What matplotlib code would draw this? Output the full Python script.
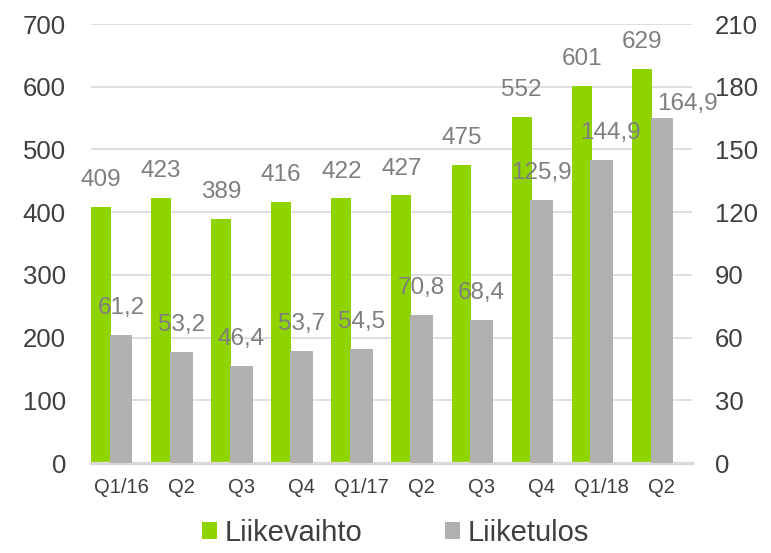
import numpy as np
import matplotlib.pyplot as plt

quarters = ['Q1/16', 'Q2', 'Q3', 'Q4', 'Q1/17', 'Q2', 'Q3', 'Q4', 'Q1/18', 'Q2']
liikevaihto = [409, 423, 389, 416, 422, 427, 475, 552, 601, 629]
liiketulos = [61.2, 53.2, 46.4, 53.7, 54.5, 70.8, 68.4, 125.9, 144.9, 164.9]

green = '#8FD400'
grey = '#B2B1AF'
label_col = '#7F7F7F'
tick_col = '#3F3F3F'

plt.rcParams['font.family'] = ['Liberation Sans', 'DejaVu Sans']

fig = plt.figure(figsize=(7.71, 5.53), dpi=100)
ax = fig.add_axes([0.118, 0.1627, 0.7795, 0.7939])
ax2 = ax.twinx()

x = np.arange(len(quarters))
# bars sit at the left of each category slot, like the original
b1 = ax.bar(x - 0.5, liikevaihto, 0.33, align='edge', color=green,
            label='Liikevaihto', zorder=3)
b2 = ax2.bar(x - 0.5 + 0.31, liiketulos, 0.38, align='edge', color=grey,
             label='Liiketulos', zorder=3)

ax.set_ylim(0, 700)
ax2.set_ylim(0, 210)
ax.set_yticks(range(0, 701, 100))
ax2.set_yticks(range(0, 211, 30))
ax.set_xlim(-0.5, len(quarters) - 0.5)
ax.set_xticks(x)
ax.set_xticklabels(quarters)

ax.yaxis.grid(True, color='#D9D9D9', linewidth=1.2, zorder=0)
ax.set_axisbelow(True)

for a in (ax, ax2):
    for s in a.spines.values():
        s.set_visible(False)
    a.tick_params(length=0, colors=tick_col)
ax.tick_params(axis='y', labelsize=18.5, pad=18)
ax2.tick_params(axis='y', labelsize=18.5, pad=16.5)
ax.tick_params(axis='x', labelsize=14.5, pad=11)
ax.axhline(0, color='#D9D9D9', linewidth=2.4, zorder=4, clip_on=False)

for rect, v in zip(b1, liikevaihto):
    ax.text(rect.get_x() + rect.get_width() / 2, v + 25, f'{v}',
            ha='center', va='bottom', fontsize=17.5, color=label_col, zorder=5)

# Excel nudged the last two labels sideways to avoid collisions
nudge = {8: (0.15, 0), 9: (0.43, -6)}
for i, (rect, v) in enumerate(zip(b2, liiketulos)):
    dx, dy = nudge.get(i, (0, 0))
    ax2.text(rect.get_x() + rect.get_width() / 2 + dx, v + 7.7 + dy,
             f'{v:.1f}'.replace('.', ','), ha='center', va='bottom',
             fontsize=17.5, color=label_col, zorder=5)

ax2.set_zorder(ax.get_zorder() + 1)
ax.patch.set_visible(False)

fig.legend(handles=[b1, b2], loc='lower center', ncol=2, frameon=False,
           fontsize=21, bbox_to_anchor=(0.513, -0.016), handlelength=0.52,
           handleheight=0.52, handletextpad=0.25, columnspacing=2.85,
           labelcolor=tick_col, borderpad=0.0)

fig.savefig('out.png', dpi=100)
